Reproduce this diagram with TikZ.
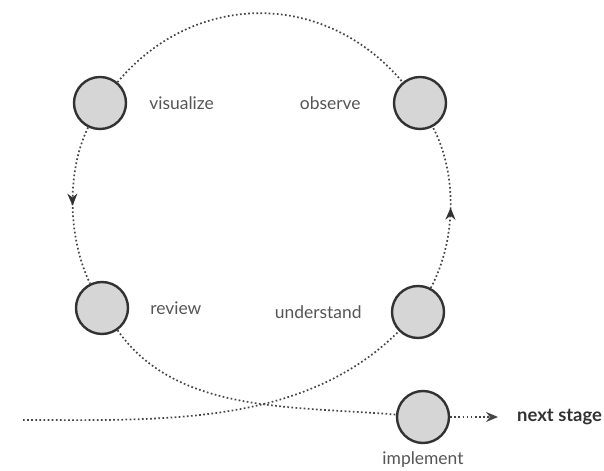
\documentclass[tikz,border=0pt]{standalone}
\usepackage{fontspec}
\setmainfont{Lato}
\usetikzlibrary{positioning,arrows.meta,decorations.markings}
\definecolor{ink}{RGB}{50,50,50}
\definecolor{cStep}{RGB}{214,214,214}
\definecolor{tDot}{RGB}{70,70,70}
\definecolor{note}{RGB}{85,85,85}

\begin{document}
\begin{tikzpicture}[
  x=1bp, y=1bp,
  font=\fontsize{17.5}{21}\selectfont,
  >={Stealth[length=12bp,width=10bp]},
  stage/.style={circle, draw=ink, line width=2.4bp, fill=cStep, minimum size=52bp, inner sep=0pt},
  lbl/.style={text=note, inner sep=0pt},
  flow/.style={draw=tDot, line width=1.7bp, dash pattern=on 1.7bp off 2.4bp},
  midarrow/.style={postaction={decorate}, decoration={markings, mark=at position #1 with {\arrow[ink]{>}}}},
]
\useasboundingbox (0,0) rectangle (604,471);

% ---- the five stages ----
\node[stage] (vis) at (100,368) {};
\node[stage] (obs) at (420,368) {};
\node[stage] (rev) at (102,163) {};
\node[stage] (und) at (418,159) {};
\node[stage] (imp) at (423,54) {};

% ---- labels ----
\node[lbl, right=22bp of vis] (visL) {visualize};
\node[lbl, left=32bp of obs] (obsL) {observe};
\node[lbl, right=21bp of rev] (revL) {review};
\node[lbl, left=29bp of und] (undL) {understand};
\node[lbl, below=7bp of imp] (impL) {implement};
\node[lbl, text=ink, font=\fontsize{18.5}{22}\selectfont\bfseries, anchor=west] (next) at (517,54) {next stage};
\coordinate (start) at (23,51);

% ---- the loop ----
\draw[flow] (vis) to[out=50, in=130, looseness=1.08] (obs);
\draw[flow, midarrow=0.5] (vis) to[out=244, in=116, looseness=0.82] (rev);
\draw[flow, midarrow=0.5] (und) to[out=62, in=-62, looseness=0.85] (obs);

% ---- way in and way out ----
\draw[flow] (start) to[out=0, in=225, looseness=0.9] (und);
\draw[flow] (rev) to[out=-55, in=175, looseness=0.9] (imp);
\draw[flow, ->, shorten >=19bp] (imp) -- (next);

\end{tikzpicture}
\end{document}
